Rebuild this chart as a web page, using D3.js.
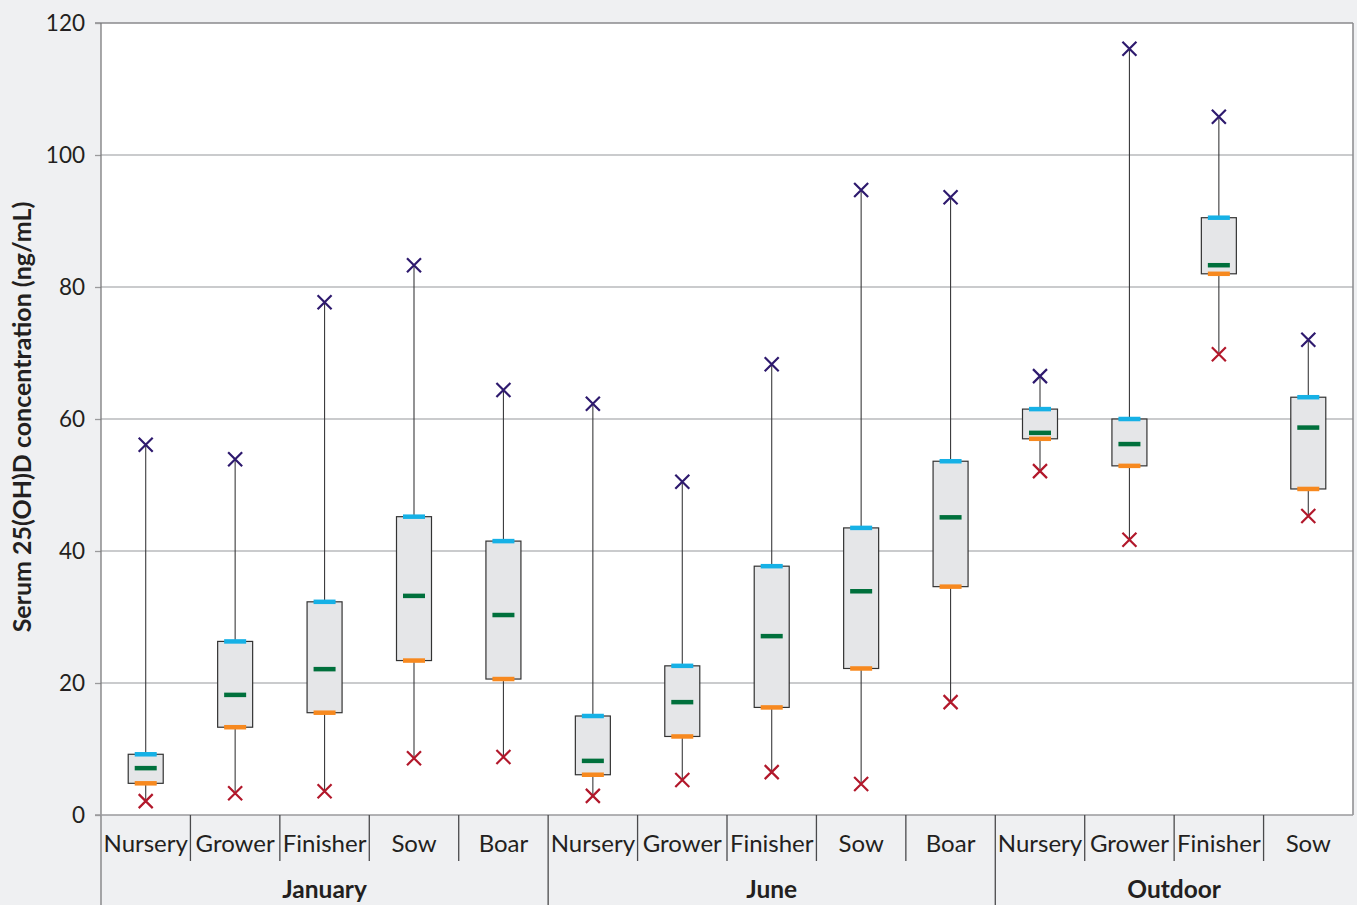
<!DOCTYPE html>
<html>
<head>
<meta charset="utf-8">
<script src="https://cdn.jsdelivr.net/npm/d3@7"></script>
<style>
  html, body { margin: 0; padding: 0; background: #eff0f2; }
  svg { display: block; font-family: Lato, "Open Sans", sans-serif; }
</style>
</head>
<body>
<svg id="chart" width="1357" height="905"></svg>
<script>
// Serum 25(OH)D box summaries by housing period and production stage
const groups = ["January", "June", "Outdoor"];
const stages = [
  ["Nursery", "Grower", "Finisher", "Sow", "Boar"],
  ["Nursery", "Grower", "Finisher", "Sow", "Boar"],
  ["Nursery", "Grower", "Finisher", "Sow"]
];
const maxVals    = [56.1, 53.9, 77.7, 83.3, 64.4,  62.3, 50.5, 68.3, 94.7, 93.6,  66.5, 116.1, 105.8, 72.0];
const q3Vals     = [ 9.2, 26.3, 32.3, 45.2, 41.5,  15.0, 22.6, 37.7, 43.5, 53.6,  61.5,  60.0,  90.5, 63.3];
const medianVals = [ 7.1, 18.2, 22.1, 33.2, 30.3,   8.2, 17.1, 27.1, 33.9, 45.1,  57.9,  56.2,  83.3, 58.7];
const q1Vals     = [ 4.8, 13.3, 15.5, 23.4, 20.6,   6.1, 11.9, 16.3, 22.2, 34.6,  57.0,  52.9,  82.0, 49.4];
const minVals    = [ 2.1,  3.3,  3.6,  8.6,  8.8,   2.9,  5.3,  6.5,  4.7, 17.1,  52.1,  41.7,  69.8, 45.3];
const yTicks = [0, 20, 40, 60, 80, 100, 120];

const rows = [];
stages.forEach((list, g) => list.forEach(s => rows.push({ group: groups[g], stage: s })));
rows.forEach((r, i) => {
  r.id = i; r.max = maxVals[i]; r.q3 = q3Vals[i]; r.median = medianVals[i];
  r.q1 = q1Vals[i]; r.min = minVals[i];
});

const svg = d3.select("#chart");
const plotL = 101, plotR = 1353, plotT = 23, plotB = 815;

const x = d3.scaleBand().domain(rows.map(r => r.id)).range([plotL, plotR]).padding(0);
const y = d3.scaleLinear().domain([0, 120]).range([plotB, plotT]);

// plot area
svg.append("rect").attr("x", plotL).attr("y", plotT)
  .attr("width", plotR - plotL).attr("height", plotB - plotT).attr("fill", "#fff");

// gridlines
svg.append("g").selectAll("line").data(yTicks.filter(t => t > 0 && t < 120)).join("line")
  .attr("x1", plotL).attr("x2", plotR)
  .attr("y1", d => y(d)).attr("y2", d => y(d))
  .attr("stroke", "#b9babc").attr("stroke-width", 1.3);

// frame
svg.append("line").attr("x1", plotL - 6).attr("x2", plotR).attr("y1", y(120)).attr("y2", y(120))
  .attr("stroke", "#8a8a8c").attr("stroke-width", 1.3);
svg.append("line").attr("x1", plotR).attr("x2", plotR).attr("y1", plotT).attr("y2", plotB)
  .attr("stroke", "#8a8a8c").attr("stroke-width", 1.5);

// y axis
const yAxis = svg.append("g").attr("transform", `translate(${plotL},0)`)
  .call(d3.axisLeft(y).tickValues(yTicks).tickSize(6).tickPadding(10));
yAxis.select(".domain").remove();
yAxis.selectAll(".tick line").attr("stroke", "#9a9a9c").attr("stroke-width", 1.3);
yAxis.selectAll(".tick text").attr("fill", "#231f20")
  .style("font-size", "22.5px").style("font-family", "Lato, sans-serif");

svg.append("line").attr("x1", plotL).attr("x2", plotL).attr("y1", plotT).attr("y2", 905)
  .attr("stroke", "#7a7a7c").attr("stroke-width", 1.3);

// baseline
svg.append("line").attr("x1", plotL - 6).attr("x2", plotR).attr("y1", plotB).attr("y2", plotB)
  .attr("stroke", "#9a9a9c").attr("stroke-width", 1.5);

// category labels
const xAxis = svg.append("g").attr("transform", `translate(0,${plotB})`)
  .call(d3.axisBottom(x).tickSize(0).tickPadding(20).tickFormat(i => rows[i].stage));
xAxis.select(".domain").remove();
xAxis.selectAll(".tick text").attr("fill", "#231f20")
  .style("font-size", "24px").style("font-family", "Lato, sans-serif");

let start = 0;
const groupSpans = stages.map((list, g) => {
  const s = start; start += list.length;
  return { name: groups[g], first: s, last: start - 1 };
});

// category and group dividers
svg.append("g").selectAll("line").data(rows.filter(r => r.id > 0)).join("line")
  .attr("x1", d => x(d.id)).attr("x2", d => x(d.id))
  .attr("y1", plotB)
  .attr("y2", d => groupSpans.some(g => g.first === d.id) ? 905 : 861)
  .attr("stroke", "#4a4a4c").attr("stroke-width", 1.3);

svg.append("g").selectAll("text").data(groupSpans).join("text")
  .attr("x", d => (x(d.first) + x(d.last) + x.bandwidth()) / 2)
  .attr("y", 898)
  .attr("text-anchor", "middle")
  .attr("fill", "#231f20")
  .style("font-size", "24.5px").style("font-weight", "bold")
  .text(d => d.name);

// y title
svg.append("text")
  .attr("transform", `translate(31,${(plotT + plotB) / 2 - 2}) rotate(-90)`)
  .attr("text-anchor", "middle")
  .attr("fill", "#231f20")
  .style("font-size", "25px").style("font-weight", "bold")
  .text("Serum 25(OH)D concentration (ng/mL)");

// boxes
const boxW = 35, markW = 22, markH = 4.5, xs = 7;
const box = svg.append("g").selectAll("g").data(rows).join("g")
  .attr("transform", d => `translate(${x(d.id) + x.bandwidth() / 2},0)`);

box.append("line").attr("y1", d => y(d.max)).attr("y2", d => y(d.min))
  .attr("stroke", "#3a3a3c").attr("stroke-width", 1.1);
box.append("rect").attr("x", -boxW / 2).attr("width", boxW)
  .attr("y", d => y(d.q3)).attr("height", d => y(d.q1) - y(d.q3))
  .attr("fill", "#e5e6e8").attr("stroke", "#333").attr("stroke-width", 1.2);

const marks = [["q3", "#16b1e6"], ["median", "#00703c"], ["q1", "#f7891f"]];
marks.forEach(([k, c]) => {
  box.append("rect").attr("x", -markW / 2).attr("width", markW)
    .attr("y", d => y(d[k]) - markH / 2).attr("height", markH).attr("fill", c);
});

function cross(sel, key, color) {
  sel.append("path")
    .attr("d", d => {
      const cy = y(d[key]);
      return `M${-xs},${cy - xs}L${xs},${cy + xs}M${-xs},${cy + xs}L${xs},${cy - xs}`;
    })
    .attr("stroke", color).attr("stroke-width", 2.2).attr("fill", "none");
}
cross(box, "max", "#2e1a6e");
cross(box, "min", "#b2182b");
</script>
</body>
</html>
